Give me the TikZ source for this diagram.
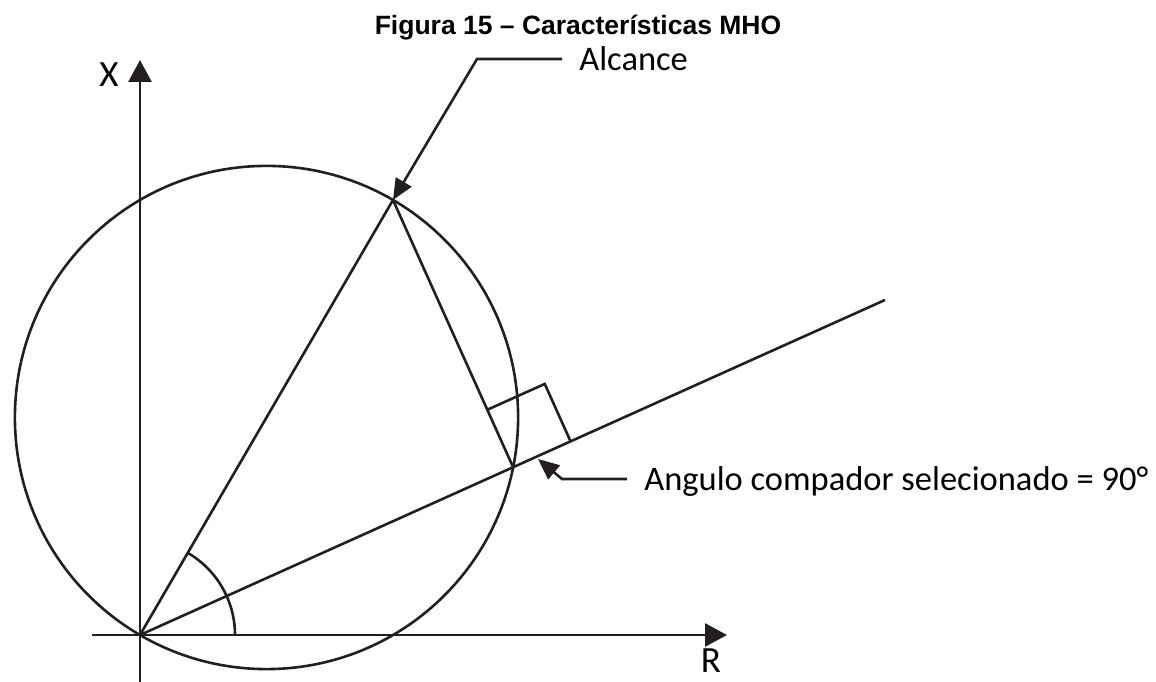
\documentclass[tikz,border=0pt]{standalone}
\usepackage{fontspec}
\setmainfont{Carlito}
\newfontfamily\titlefont{Liberation Sans}
\usepackage{tikz}
\usetikzlibrary{positioning,arrows.meta,calc}
\definecolor{ink}{HTML}{231F20}

\begin{document}
\begin{tikzpicture}[x=1pt,y=1pt,line width=2.6pt,
  lbl/.style={font=\fontsize{34.5}{40}\selectfont,inner xsep=16pt,inner ysep=0pt,text height=24pt,text depth=0pt,anchor=west},
  axlbl/.style={font=\fontsize{37}{42}\selectfont,inner sep=0pt},
  leader/.style={ink,-{Triangle[length=21pt,width=18pt]}},
  axis/.style={ink,-{Triangle[length=22pt,width=23pt]}}]
  \useasboundingbox (0,0) rectangle (1156,682);
  % impedance plane
  \coordinate (O) at (140,47);
  \coordinate (Xbot) at (140,0);  \coordinate (Xtop) at (140,622);
  \coordinate (Rlft) at (92,47);  \coordinate (Rrgt) at (727,47);
  \draw[axis] (Xbot) -- (Xtop);
  \draw[axis] (Rlft) -- (Rrgt);
  \node[axlbl] (xlbl) at (109,607) {X};
  \node[axlbl] (rlbl) at (711,21) {R};
  % mho circle, diameter O--A
  \coordinate (A) at (393,482);
  \coordinate (E) at (885,382);
  \coordinate (P) at ($(O)!(A)!(E)$);
  \coordinate (M) at ($(O)!0.5!(A)$);
  \draw[ink] let \p1=($(A)-(M)$) in (M) circle ({veclen(\x1,\y1)});
  \draw[ink] (O) -- (E);
  \draw[ink] (O) -- (A) -- (P);
  \draw[ink] ($(O)+(95,0)$) arc[start angle=0,end angle=59.8,radius=95];
  \coordinate (sqA) at ($(P)!63pt!(A)$);
  \coordinate (sqE) at ($(P)!63pt!(E)$);
  \draw[ink] (sqA) -- ($(sqA)+(sqE)-(P)$) -- (sqE);
  % labels
  \node[font=\titlefont\bfseries\fontsize{26.5}{30}\selectfont,anchor=base] (title) at (578,647) {Figura 15 – Características MHO};
  \node[lbl] (alcance) at (562,623) {Alcance};
  \draw[leader] (alcance.west) -- ++(-85,0) -- (A);
  \coordinate (tipang) at (538,223);
  \node[lbl] (angulo) at (627,203) {Angulo compador selecionado = 90°};
  \draw[leader] (angulo.west) -- ++(-65,0) -- (tipang);
\end{tikzpicture}
\end{document}
